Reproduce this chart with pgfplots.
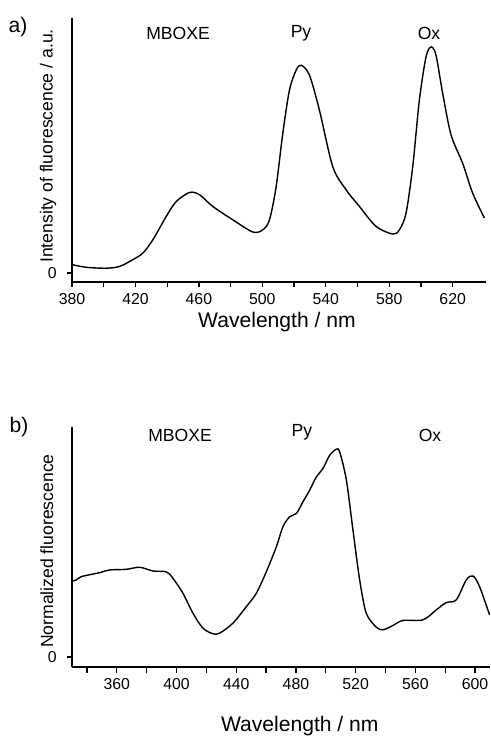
\documentclass[border=0pt]{standalone}
\usepackage{fontspec}
\setmainfont{Liberation Sans}
\usepackage{pgfplots}
\pgfplotsset{compat=1.18}

\pgfplotsset{
  spec/.style={
    scale only axis,
    axis lines=left,
    axis line style={-, line width=0.9pt},
    tick align=outside,
    major tick length=0.11cm,
    minor tick length=0.11cm,
    every tick/.style={black, line width=0.7pt},
    minor x tick num=1,
    ytick={0},
    tick label style={font=\fontsize{9}{10}\selectfont},
    yticklabel style={xshift=-2pt},
    /pgf/number format/assume math mode=true,
    /pgf/number format/1000 sep={},
    xlabel style={font=\fontsize{12}{14}\selectfont, anchor=center},
    ylabel style={font=\fontsize{10}{12}\selectfont, anchor=center, rotate=0},
    clip=false,
  },
  curve/.style={black, line width=0.8pt, smooth, tension=0.5},
}

\begin{document}
\begin{tikzpicture}[x=1cm, y=1cm]
\path[use as bounding box] (0,0) rectangle (9.8,14.72);

% a) raw intensities
\begin{axis}[spec,
    at={(1.44cm,9.08cm)}, anchor=south west,
    width=8.28cm, height=5.28cm,
    xmin=380, xmax=641, ymin=-0.04, ymax=1.128,
    xtick={380,420,...,620},
    xlabel={Wavelength / nm},
    xlabel style={at={(axis description cs:0.495,-0.152)}},
    ylabel={Intensity of fluorescence / a.u.},
    ylabel style={at={(axis description cs:-0.058,0.515)}},
  ]
  \addplot[curve] coordinates {
    (380,0.037) (389,0.025) (401.6,0.021) (410,0.029) (418.4,0.059)
    (424.7,0.088) (431,0.147) (439.4,0.25) (445.7,0.316) (454.1,0.356)
    (460.4,0.346) (468.8,0.294) (481.4,0.235) (494,0.181) (500.3,0.191)
    (504.5,0.235) (508.7,0.382) (512.9,0.618) (517.1,0.809) (521.3,0.897)
    (524.5,0.919) (529.7,0.875) (536,0.72) (544.4,0.47) (552.8,0.368)
    (561.2,0.294) (571.7,0.206) (582.2,0.172) (586.4,0.191) (590.6,0.265)
    (594.8,0.47) (599,0.765) (603.2,0.956) (606.4,1.0) (609.5,0.963)
    (613.7,0.794) (619,0.61) (626.3,0.485) (632.6,0.353) (640,0.243)
  };
\end{axis}

% b) normalized
\begin{axis}[spec,
    at={(1.44cm,1.38cm)}, anchor=south west,
    width=8.36cm, height=4.8cm,
    xmin=330, xmax=610, ymin=-0.048, ymax=1.107,
    xtick={360,400,...,600},
    minor xtick={340,380,...,620},
    minor x tick num=0,
    xlabel={Wavelength / nm},
    xlabel style={at={(axis description cs:0.545,-0.245)}},
    ylabel={Normalized fluorescence},
    ylabel style={at={(axis description cs:-0.06,0.483)}},
  ]
  \addplot[curve] coordinates {
    (330,0.366) (332.9,0.371) (336.3,0.387) (348.5,0.406) (355.2,0.419)
    (366.4,0.422) (375.3,0.432) (384.3,0.414) (393.2,0.41) (397.6,0.379)
    (404.3,0.307) (411,0.211) (417.7,0.139) (424.4,0.112) (428.9,0.115)
    (437.8,0.163) (446.8,0.243) (453.5,0.307) (460.2,0.411) (466.9,0.531)
    (471.3,0.627) (475.8,0.675) (480.3,0.691) (484.7,0.747) (489.2,0.803)
    (493.7,0.867) (498.1,0.907) (502.6,0.971) (507,1.0) (509.3,0.987)
    (513.8,0.851) (518.2,0.611) (522.7,0.371) (527.1,0.211) (533.8,0.144)
    (538.3,0.131) (545,0.152) (551.7,0.176) (565.1,0.179) (574,0.227)
    (580.7,0.262) (587.4,0.275) (594.1,0.371) (598.6,0.39) (603,0.339)
    (609.7,0.203)
  };
\end{axis}

\begin{scope}[every node/.style={font=\fontsize{10}{12}\selectfont, inner sep=0pt}]
  \node[font=\fontsize{12}{14}\selectfont] at (0.36,14.18) {a)};
  \node at (3.56,14.06) {MBOXE};
  \node at (6.02,14.06) {Py};
  \node at (8.58,14.06) {Ox};
  \node[font=\fontsize{12}{14}\selectfont] at (0.38,6.18) {b)};
  \node at (3.60,6.02) {MBOXE};
  \node at (6.04,6.08) {Py};
  \node at (8.60,6.02) {Ox};
\end{scope}
\end{tikzpicture}
\end{document}
